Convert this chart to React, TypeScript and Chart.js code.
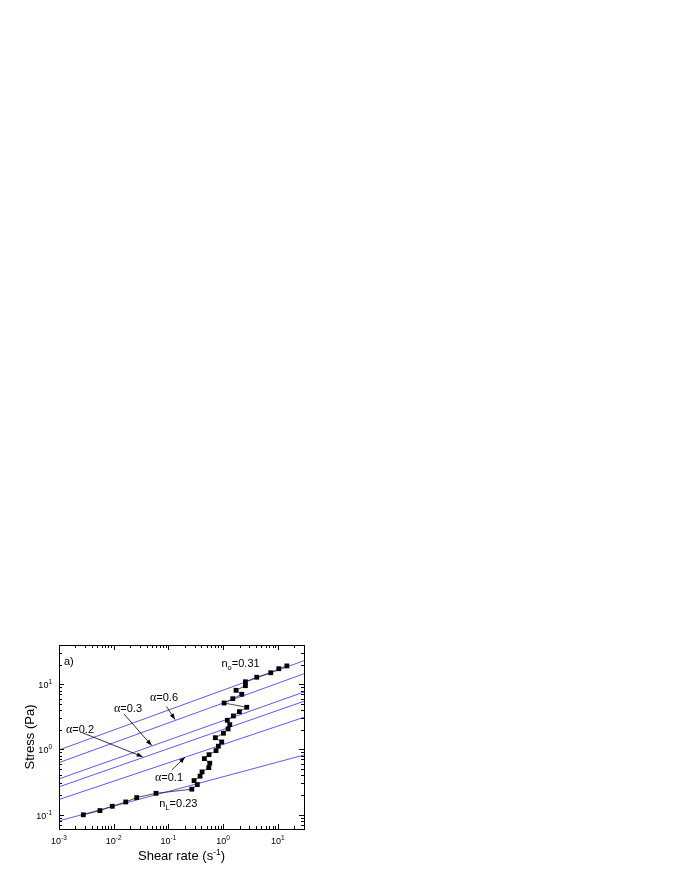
import React, { useEffect, useRef } from "react";
import { Chart, registerables } from "chart.js";

Chart.register(...registerables);

// ---- data ----
const shearRate = [
  0.00278, 0.0056, 0.0094, 0.0166, 0.0263, 0.0593, 0.267, 0.337, 0.294, 0.378,
  0.411, 0.546, 0.569, 0.453, 0.552, 0.741, 0.817, 0.942, 0.719, 1.01,
  1.23, 1.32, 1.19, 1.54, 1.98, 2.7, 1.04, 1.5, 2.19, 1.72,
  2.55, 2.55, 4.11, 7.41, 10.4, 14.6,
];
const stress = [
  0.099, 0.115, 0.134, 0.156, 0.182, 0.212, 0.245, 0.288, 0.332, 0.388,
  0.451, 0.525, 0.614, 0.721, 0.83, 0.957, 1.12, 1.3, 1.51, 1.77,
  2.06, 2.4, 2.8, 3.26, 3.79, 4.43, 5.15, 6.0, 7.01, 8.07,
  9.5, 10.9, 12.8, 15.0, 17.3, 19.1,
];

// power-law guide lines: stress at shear rate 1e-3 and 30
const fitX = [0.001, 30];
const fitNo = [0.98, 23]; // n_o = 0.31
const fitA06 = [0.627, 14.5];
const fitA03 = [0.352, 7.6];
const fitA02 = [0.266, 5.48];
const fitA01 = [0.17, 3.11];
const fitNL = [0.08, 0.82]; // n_L = 0.23

const xRange = [0.001, 30];
const yRange = [0.06, 40];
const xTickExps = [-3, -2, -1, 0, 1];
const yTickExps = [-1, 0, 1];

const SANS = '"Liberation Sans", Arial, Helvetica, sans-serif';
const SERIF = '"Liberation Serif", "Times New Roman", serif';

type Part = { t: string; size: number; dy?: number; font?: string };

function richWidth(ctx: CanvasRenderingContext2D, parts: Part[]) {
  let w = 0;
  for (const p of parts) {
    ctx.font = `${p.size}px ${p.font || SANS}`;
    w += ctx.measureText(p.t).width;
  }
  return w;
}

function drawRich(ctx: CanvasRenderingContext2D, parts: Part[], x: number, baseline: number) {
  let cx = x;
  ctx.textBaseline = "alphabetic";
  ctx.textAlign = "left";
  for (const p of parts) {
    ctx.font = `${p.size}px ${p.font || SANS}`;
    ctx.fillText(p.t, cx, baseline + (p.dy || 0));
    cx += ctx.measureText(p.t).width;
  }
}

function arrow(ctx: CanvasRenderingContext2D, x1: number, y1: number, x2: number, y2: number) {
  ctx.beginPath();
  ctx.moveTo(x1, y1);
  ctx.lineTo(x2, y2);
  ctx.lineWidth = 0.8;
  ctx.strokeStyle = "#000";
  ctx.stroke();
  const ang = Math.atan2(y2 - y1, x2 - x1);
  const L = 6, W = 2.2;
  ctx.beginPath();
  ctx.moveTo(x2, y2);
  ctx.lineTo(x2 - L * Math.cos(ang) + W * Math.sin(ang), y2 - L * Math.sin(ang) - W * Math.cos(ang));
  ctx.lineTo(x2 - L * Math.cos(ang) - W * Math.sin(ang), y2 - L * Math.sin(ang) + W * Math.cos(ang));
  ctx.closePath();
  ctx.fillStyle = "#000";
  ctx.fill();
}

const alpha = (v: string): Part[] => [
  { t: "\u03b1", size: 12, font: SERIF },
  { t: "=" + v, size: 11 },
];

const decorPlugin = {
  id: "decor",
  afterDraw(chart: any) {
    const { ctx, chartArea: a, scales } = chart;
    const xs = scales.x, ys = scales.y;
    ctx.save();
    ctx.fillStyle = "#000";
    ctx.strokeStyle = "#000";

    // frame
    ctx.lineWidth = 1;
    ctx.strokeRect(Math.round(a.left) + 0.5, Math.round(a.top) + 0.5, Math.round(a.right - a.left), Math.round(a.bottom - a.top));

    // ticks (inward, mirrored)
    ctx.beginPath();
    for (let d = -4; d <= 2; d++) {
      for (let m = 1; m <= 9; m++) {
        const v = m * Math.pow(10, d);
        const len = m === 1 ? 5 : 3;
        if (v >= xRange[0] * 0.999 && v <= xRange[1] * 1.001) {
          const px = Math.round(xs.getPixelForValue(v)) + 0.5;
          ctx.moveTo(px, a.bottom);
          ctx.lineTo(px, a.bottom - len);
          ctx.moveTo(px, a.top);
          ctx.lineTo(px, a.top + len);
        }
        if (v >= yRange[0] * 0.999 && v <= yRange[1] * 1.001) {
          const py = Math.round(ys.getPixelForValue(v)) + 0.5;
          ctx.moveTo(a.left, py);
          ctx.lineTo(a.left + len, py);
          ctx.moveTo(a.right, py);
          ctx.lineTo(a.right - len, py);
        }
      }
    }
    ctx.lineWidth = 1;
    ctx.stroke();

    // tick labels
    for (const e of xTickExps) {
      const px = xs.getPixelForValue(Math.pow(10, e));
      const parts: Part[] = [
        { t: "10", size: 9 },
        { t: e < 0 ? "-" + Math.abs(e) : String(e), size: 6.5, dy: -4 },
      ];
      const w = richWidth(ctx, parts);
      drawRich(ctx, parts, px - w / 2, a.bottom + 15);
    }
    for (const e of yTickExps) {
      const py = ys.getPixelForValue(Math.pow(10, e));
      const parts: Part[] = [
        { t: "10", size: 9 },
        { t: e < 0 ? "-" + Math.abs(e) : String(e), size: 6.5, dy: -4 },
      ];
      const w = richWidth(ctx, parts);
      drawRich(ctx, parts, a.left - 7 - w, py + 4);
    }

    // axis titles
    const xt: Part[] = [
      { t: "Shear rate (s", size: 13 },
      { t: "-1", size: 8.5, dy: -5 },
      { t: ")", size: 13 },
    ];
    const xw = richWidth(ctx, xt);
    drawRich(ctx, xt, (a.left + a.right) / 2 - xw / 2, a.bottom + 30.5);

    ctx.save();
    ctx.translate(a.left - 30, (a.top + a.bottom) / 2);
    ctx.rotate(-Math.PI / 2);
    const yt: Part[] = [{ t: "Stress (Pa)", size: 13 }];
    const yw = richWidth(ctx, yt);
    drawRich(ctx, yt, -yw / 2, 4.5);
    ctx.restore();

    // annotations (offsets from plot area corner)
    const L = a.left, T = a.top;
    drawRich(ctx, [{ t: "a)", size: 11 }], L + 5, T + 20);
    drawRich(ctx, [
      { t: "n", size: 11 },
      { t: "o", size: 7.5, dy: 3 },
      { t: "=0.31", size: 11 },
    ], L + 162.5, T + 21.5);
    drawRich(ctx, alpha("0.6"), L + 91, T + 55.5);
    arrow(ctx, L + 107.5, T + 61.5, L + 116, T + 74.5);
    drawRich(ctx, alpha("0.3"), L + 55, T + 67);
    arrow(ctx, L + 65, T + 69, L + 92.7, T + 100.5);
    drawRich(ctx, alpha("0.2"), L + 7, T + 87.5);
    arrow(ctx, L + 24, T + 88, L + 83.7, T + 111.8);
    drawRich(ctx, alpha("0.1"), L + 96, T + 135.5);
    arrow(ctx, L + 112.7, T + 125, L + 126, T + 112.3);
    drawRich(ctx, [
      { t: "n", size: 11 },
      { t: "L", size: 7.5, dy: 3 },
      { t: "=0.23", size: 11 },
    ], L + 100.3, T + 162.3);

    ctx.restore();
  },
};

const BLUE = "rgb(90,90,255)";

function guide(vals: number[]) {
  return {
    data: fitX.map((x, i) => ({ x, y: vals[i] })),
    showLine: true,
    borderColor: BLUE,
    borderWidth: 1,
    pointRadius: 0,
    fill: false,
  };
}

export default function App() {
  const ref = useRef<HTMLCanvasElement | null>(null);
  useEffect(() => {
    if (!ref.current) return;
    const chart = new Chart(ref.current, {
      type: "scatter",
      data: {
        datasets: [
          {
            data: shearRate.map((x, i) => ({ x, y: stress[i] })),
            showLine: true,
            borderColor: "#222",
            borderWidth: 0.8,
            pointStyle: "rect",
            pointRadius: 3.4,
            pointBackgroundColor: "#000",
            pointBorderWidth: 0,
            fill: false,
          } as any,
          guide(fitNo),
          guide(fitA06),
          guide(fitA03),
          guide(fitA02),
          guide(fitA01),
          guide(fitNL),
        ],
      },
      options: {
        animation: false,
        responsive: false,
        devicePixelRatio: 1,
        layout: { padding: { left: 59, top: 645, right: 376, bottom: 51 } },
        plugins: { legend: { display: false }, tooltip: { enabled: false }, title: { display: false } },
        scales: {
          x: { type: "logarithmic", min: xRange[0], max: xRange[1], display: false },
          y: { type: "logarithmic", min: yRange[0], max: yRange[1], display: false },
        },
        events: [],
      } as any,
      plugins: [decorPlugin],
    });
    return () => chart.destroy();
  }, []);
  return (
    <canvas
      ref={ref}
      width={680}
      height={880}
      style={{ position: "absolute", left: 0, top: 0, width: 680, height: 880, background: "#fff" }}
    />
  );
}
